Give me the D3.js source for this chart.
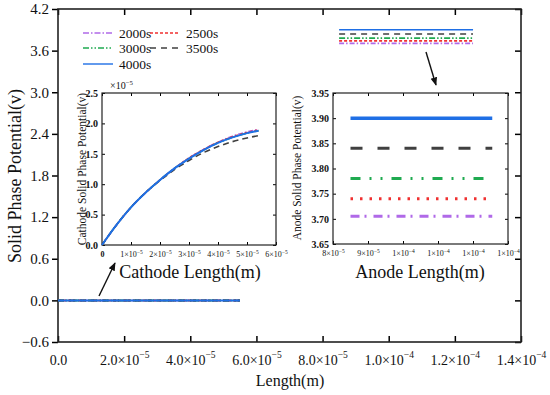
<!DOCTYPE html>
<html>
<head>
<meta charset="utf-8">
<script src="https://cdn.jsdelivr.net/npm/d3@7"></script>
<style>
  body { margin: 0; background: #fff; }
</style>
</head>
<body>
<svg width="550" height="395"></svg>
<script>
// series labels and colours
const times = ["2000s", "2500s", "3000s", "3500s", "4000s"];
const colors = ["#b069e8", "#f03030", "#1faa50", "#404040", "#1f6fe5"];

// cathode profile (x in m, potential in 1e-5 V)
const cathodeX = [0, 0.5e-5, 1e-5, 1.5e-5, 2e-5, 2.5e-5, 3e-5, 3.5e-5, 4e-5, 4.5e-5, 5e-5, 5.4e-5];
const cathode2000 = [0, 0.33, 0.62, 0.86, 1.07, 1.26, 1.43, 1.57, 1.69, 1.79, 1.86, 1.90];
const cathode2500 = [0, 0.33, 0.62, 0.86, 1.07, 1.26, 1.43, 1.57, 1.69, 1.78, 1.85, 1.89];
const cathode3000 = [0, 0.33, 0.62, 0.86, 1.07, 1.26, 1.42, 1.56, 1.68, 1.77, 1.84, 1.88];
const cathode3500 = [0, 0.33, 0.62, 0.86, 1.06, 1.24, 1.39, 1.52, 1.62, 1.70, 1.76, 1.80];
const cathode4000 = [0, 0.33, 0.62, 0.86, 1.07, 1.26, 1.42, 1.56, 1.68, 1.77, 1.84, 1.88];
const cathodeSeries = [cathode2000, cathode2500, cathode3000, cathode3500, cathode4000];

// anode potential levels (V) over anode range
const anodeX = [8.5e-5, 1.255e-4];
const anodeLevels = [3.705, 3.74, 3.78, 3.84, 3.90];

// main-axis cathode range
const mainCathodeX = [0, 5.5e-5];

// tick labels
const mainYTicks = [-0.6, 0.0, 0.6, 1.2, 1.8, 2.4, 3.0, 3.6, 4.2];
const mainXTicks = [0, 2e-5, 4e-5, 6e-5, 8e-5, 1e-4, 1.2e-4, 1.4e-4];
const mainXLabels = [["0.0", ""], ["2.0×10", "−5"], ["4.0×10", "−5"], ["6.0×10", "−5"], ["8.0×10", "−5"], ["1.0×10", "−4"], ["1.2×10", "−4"], ["1.4×10", "−4"]];
const cathXTicks = [0, 1e-5, 2e-5, 3e-5, 4e-5, 5e-5, 6e-5];
const cathXLabels = [["0", ""], ["1×10", "−5"], ["2×10", "−5"], ["3×10", "−5"], ["4×10", "−5"], ["5×10", "−5"], ["6×10", "−5"]];
const cathYTicks = [0, 0.5, 1.0, 1.5, 2.0, 2.5];
const anodeXTicks = [8e-5, 9e-5, 1e-4, 1.1e-4, 1.2e-4, 1.3e-4];
const anodeXLabels = [["8×10", "−5"], ["9×10", "−5"], ["1×10", "−4"], ["1×10", "−4"], ["1×10", "−4"], ["1×10", "−4"]];
const anodeYTicks = [3.65, 3.70, 3.75, 3.80, 3.85, 3.90, 3.95];

// dash styles
const dashLegend = ["6,2,1.5,2", "3,2", "6,2,1.5,2,1.5,2", "6,5", null];
const dashAnode = ["9,5,2,7", "2.5,7", "10,9,2,9,2,9", "12,15", null];
const dashTop = ["5,2,1.5,2", "3,2", "6,2,1.5,2,1.5,2", "6,5", null];
const dashCath = ["5,2,1.5,2", "3,2", "6,2,1.5,2,1.5,2", "6,4", null];

let svg = d3.select("svg");
const serif = "'Liberation Serif', 'DejaVu Serif', serif";

function supLabel(sel, parts, size) {
    sel.text(null);
    sel.append("tspan").text(parts[0]);
    if (parts[1]) {
        sel.append("tspan")
            .attr("dy", -size * 0.45)
            .style("font-size", (size * 0.68) + "px")
            .text(parts[1]);
    }
}

// ---------- main plot ----------
let x = d3.scaleLinear().domain([0, 1.4e-4]).range([58, 521]);
let y = d3.scaleLinear().domain([-0.6, 4.2]).range([342, 9]);

let main = svg.append("g");

main.append("g")
    .attr("transform", "translate(0,342)")
    .call(d3.axisBottom(x).tickValues(mainXTicks).tickSize(-6).tickPadding(8).tickFormat(""))
    .call(g => g.select(".domain").remove())
    .call(g => g.selectAll(".tick line").attr("stroke-width", 1.5))
    .call(g => g.selectAll(".tick text")
        .data(mainXLabels)
        .style("font-size", "14px")
        .attr("dy", "1.05em")
        .each(function(d) { supLabel(d3.select(this), d, 14); }));

main.append("g")
    .attr("transform", "translate(0,9)")
    .call(d3.axisTop(x).tickValues(mainXTicks).tickSize(-6).tickFormat(""))
    .call(g => g.select(".domain").remove())
    .call(g => g.selectAll(".tick line").attr("stroke-width", 1.5));

main.append("g")
    .attr("transform", "translate(58,0)")
    .call(d3.axisLeft(y).tickValues(mainYTicks).tickSize(6).tickPadding(3)
        .tickFormat(d => d < 0 ? "−" + Math.abs(d).toFixed(1) : d.toFixed(1)))
    .call(g => g.select(".domain").remove())
    .call(g => g.selectAll(".tick line").attr("stroke-width", 1.5))
    .call(g => g.selectAll(".tick text").style("font-size", "15px"));

main.append("g")
    .attr("transform", "translate(521,0)")
    .call(d3.axisRight(y).tickValues(mainYTicks).tickSize(-6).tickFormat(""))
    .call(g => g.select(".domain").remove())
    .call(g => g.selectAll(".tick line").attr("stroke-width", 1.5));

main.append("rect")
    .attr("x", 58).attr("y", 9).attr("width", 463).attr("height", 333)
    .attr("fill", "none").attr("stroke", "#222").attr("stroke-width", 1.6);

// cathode at main scale (all series overlap at 0)
main.selectAll(".cathMain")
    .data(times)
    .enter()
    .append("line")
    .attr("x1", x(mainCathodeX[0]))
    .attr("x2", x(mainCathodeX[1]))
    .attr("y1", y(0)).attr("y2", y(0))
    .attr("stroke", (d, i) => colors[i])
    .attr("stroke-width", 2)
    .attr("stroke-dasharray", (d, i) => dashTop[i]);

// anode at main scale
main.selectAll(".anodeMain")
    .data(anodeLevels)
    .enter()
    .append("line")
    .attr("x1", x(anodeX[0]))
    .attr("x2", x(anodeX[1]))
    .attr("y1", d => y(d)).attr("y2", d => y(d))
    .attr("stroke", (d, i) => colors[i])
    .attr("stroke-width", 1.6)
    .attr("stroke-dasharray", (d, i) => dashTop[i]);

// axis titles
svg.append("text")
    .attr("transform", "translate(21,176) rotate(-90)")
    .attr("text-anchor", "middle")
    .style("font-size", "18px")
    .text("Solid Phase Potential(v)");

svg.append("text")
    .attr("x", 290).attr("y", 386)
    .attr("text-anchor", "middle")
    .style("font-size", "16px")
    .text("Length(m)");

// legend
let legendPos = [[83, 33], [150, 33], [83, 48], [150, 48], [83, 64]];
let legend = svg.append("g");
times.forEach((t, i) => {
    let p = legendPos[i];
    legend.append("line")
        .attr("x1", p[0]).attr("x2", p[0] + 30)
        .attr("y1", p[1]).attr("y2", p[1])
        .attr("stroke", colors[i])
        .attr("stroke-width", 1.4)
        .attr("stroke-dasharray", dashLegend[i]);
    legend.append("text")
        .attr("x", p[0] + 36).attr("y", p[1] + 4.5)
        .style("font-size", "13.5px")
        .text(t);
});

// arrows
svg.append("defs").append("marker")
    .attr("id", "ah")
    .attr("viewBox", "0 0 10 10")
    .attr("refX", 9).attr("refY", 5)
    .attr("markerWidth", 6).attr("markerHeight", 6)
    .attr("orient", "auto")
    .append("path").attr("d", "M0,1 L10,5 L0,9 Z").attr("fill", "#111");

svg.append("line")
    .attr("x1", 99).attr("y1", 296).attr("x2", 115).attr("y2", 263)
    .attr("stroke", "#111").attr("stroke-width", 1.4).attr("marker-end", "url(#ah)");
svg.append("line")
    .attr("x1", 426).attr("y1", 52).attr("x2", 436).attr("y2", 85)
    .attr("stroke", "#111").attr("stroke-width", 1.4).attr("marker-end", "url(#ah)");

// ---------- cathode inset ----------
let cx = d3.scaleLinear().domain([0, 6e-5]).range([102, 276]);
let cy = d3.scaleLinear().domain([0, 2.5]).range([245, 93]);

let cath = svg.append("g");
cath.append("rect")
    .attr("x", 102).attr("y", 93).attr("width", 174).attr("height", 152)
    .attr("fill", "#fff");

cath.append("g")
    .attr("transform", "translate(0,245)")
    .call(d3.axisBottom(cx).tickValues(cathXTicks).tickSize(-3).tickPadding(4).tickFormat(""))
    .call(g => g.select(".domain").remove())
    .call(g => g.selectAll(".tick text")
        .data(cathXLabels)
        .style("font-size", "8px")
        .attr("dy", "1.05em")
        .style("font-weight", (d, i) => i === 0 ? "bold" : "normal")
        .each(function(d) { supLabel(d3.select(this), d, 8); }));

cath.append("g")
    .attr("transform", "translate(0,93)")
    .call(d3.axisTop(cx).tickValues(cathXTicks).tickSize(-3).tickFormat(""))
    .call(g => g.select(".domain").remove());

cath.append("g")
    .attr("transform", "translate(102,0)")
    .call(d3.axisLeft(cy).tickValues(cathYTicks).tickSize(-3).tickPadding(4).tickFormat(d3.format(".1f")))
    .call(g => g.select(".domain").remove())
    .call(g => g.selectAll(".tick text").style("font-size", "10px").style("font-weight", "bold"));

cath.append("g")
    .attr("transform", "translate(276,0)")
    .call(d3.axisRight(cy).tickValues(cathYTicks).tickSize(-3).tickFormat(""))
    .call(g => g.select(".domain").remove());

cath.append("rect")
    .attr("x", 102).attr("y", 93).attr("width", 174).attr("height", 152)
    .attr("fill", "none").attr("stroke", "#222").attr("stroke-width", 1.2);

let cathLine = d3.line()
    .x((d, i) => cx(cathodeX[i]))
    .y(d => cy(d))
    .curve(d3.curveMonotoneX);

cath.selectAll(".cathCurve")
    .data(cathodeSeries)
    .enter()
    .append("path")
    .attr("fill", "none")
    .attr("stroke", (d, i) => colors[i])
    .attr("stroke-width", (d, i) => i === 4 ? 2 : 1.6)
    .attr("stroke-dasharray", (d, i) => dashCath[i])
    .attr("d", cathLine);

let mult = cath.append("text").attr("x", 110).attr("y", 89).style("font-size", "10px");
supLabel(mult, ["×10", "−5"], 10);

svg.append("text")
    .attr("transform", "translate(86,169) rotate(-90)")
    .attr("text-anchor", "middle")
    .style("font-size", "11.5px")
    .text("Cathode Solid Phase Potential(v)");

svg.append("text")
    .attr("x", 190).attr("y", 278)
    .attr("text-anchor", "middle")
    .style("font-size", "18px")
    .text("Cathode Length(m)");

// ---------- anode inset ----------
let ax = d3.scaleLinear().domain([8e-5, 1.3e-4]).range([333, 508]);
let ay = d3.scaleLinear().domain([3.65, 3.95]).range([244, 93]);

let anode = svg.append("g");
anode.append("rect")
    .attr("x", 333).attr("y", 93).attr("width", 175).attr("height", 151)
    .attr("fill", "#fff");

anode.append("g")
    .attr("transform", "translate(0,244)")
    .call(d3.axisBottom(ax).tickValues(anodeXTicks).tickSize(-3).tickPadding(4).tickFormat(""))
    .call(g => g.select(".domain").remove())
    .call(g => g.selectAll(".tick text")
        .data(anodeXLabels)
        .style("font-size", "8px")
        .attr("dy", "1.05em")
        .each(function(d) { supLabel(d3.select(this), d, 8); }));

anode.append("g")
    .attr("transform", "translate(0,93)")
    .call(d3.axisTop(ax).tickValues(anodeXTicks).tickSize(-3).tickFormat(""))
    .call(g => g.select(".domain").remove());

anode.append("g")
    .attr("transform", "translate(333,0)")
    .call(d3.axisLeft(ay).tickValues(anodeYTicks).tickSize(-3).tickPadding(4).tickFormat(d3.format(".2f")))
    .call(g => g.select(".domain").remove())
    .call(g => g.selectAll(".tick text").style("font-size", "10px").style("font-weight", "bold"));

anode.append("g")
    .attr("transform", "translate(508,0)")
    .call(d3.axisRight(ay).tickValues(anodeYTicks).tickSize(-3).tickFormat(""))
    .call(g => g.select(".domain").remove());

anode.append("rect")
    .attr("x", 333).attr("y", 93).attr("width", 175).attr("height", 151)
    .attr("fill", "none").attr("stroke", "#222").attr("stroke-width", 1.2);

anode.selectAll(".anodeLine")
    .data(anodeLevels)
    .enter()
    .append("line")
    .attr("x1", ax(anodeX[0]))
    .attr("x2", ax(anodeX[1]))
    .attr("y1", d => ay(d)).attr("y2", d => ay(d))
    .attr("stroke", (d, i) => colors[i])
    .attr("stroke-width", (d, i) => i === 4 ? 3.5 : 3)
    .attr("stroke-dasharray", (d, i) => dashAnode[i]);

svg.append("text")
    .attr("transform", "translate(301,168) rotate(-90)")
    .attr("text-anchor", "middle")
    .style("font-size", "11.5px")
    .text("Anode Solid Phase Potential(v)");

svg.append("text")
    .attr("x", 420).attr("y", 278)
    .attr("text-anchor", "middle")
    .style("font-size", "18px")
    .text("Anode Length(m)");

// force serif on every text element (d3 axes set sans-serif on their groups)
svg.selectAll("text, tspan").style("font-family", serif).style("fill", "#111");
</script>
</body>
</html>
